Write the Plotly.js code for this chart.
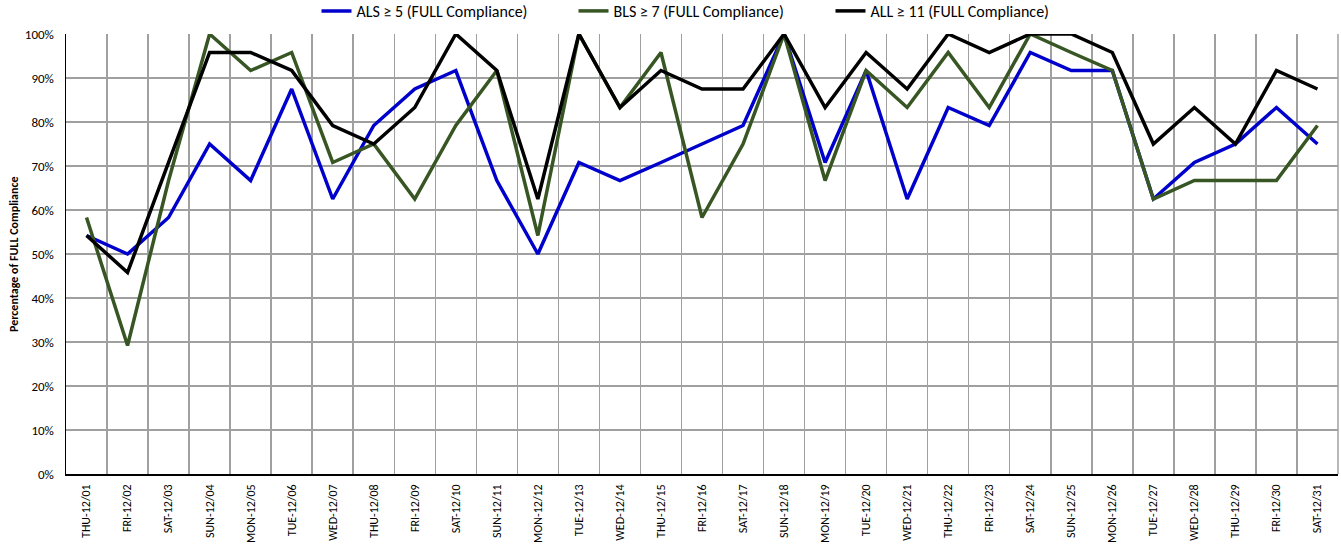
<!DOCTYPE html>
<html>
<head>
<meta charset="utf-8">
<script src="https://cdn.plot.ly/plotly-3.0.1.min.js"></script>
<style>html,body{margin:0;padding:0;background:#fff;}#chart{width:1341px;height:550px;}</style>
</head>
<body>
<div id="chart"></div>
<script>
const categories = ["THU-12/01","FRI-12/02","SAT-12/03","SUN-12/04","MON-12/05","TUE-12/06","WED-12/07","THU-12/08","FRI-12/09","SAT-12/10","SUN-12/11","MON-12/12","TUE-12/13","WED-12/14","THU-12/15","FRI-12/16","SAT-12/17","SUN-12/18","MON-12/19","TUE-12/20","WED-12/21","THU-12/22","FRI-12/23","SAT-12/24","SUN-12/25","MON-12/26","TUE-12/27","WED-12/28","THU-12/29","FRI-12/30","SAT-12/31"];
const alsValues = [54.2,50.0,58.3,75.0,66.7,87.5,62.5,79.2,87.5,91.7,66.7,50.0,70.8,66.7,70.8,75.0,79.2,100,70.8,91.7,62.5,83.3,79.2,95.8,91.7,91.7,62.5,70.8,75.0,83.3,75.0];
const blsValues = [58.3,29.2,66.7,100,91.7,95.8,70.8,75.0,62.5,79.2,91.7,54.2,100,83.3,95.8,58.3,75.0,100,66.7,91.7,83.3,95.8,83.3,100,95.8,91.7,62.5,66.7,66.7,66.7,79.2];
const allValues = [54.2,45.8,70.8,95.8,95.8,91.7,79.2,75.0,83.3,100,91.7,62.5,100,83.3,91.7,87.5,87.5,100,83.3,95.8,87.5,100,95.8,100,100,95.8,75.0,83.3,75.0,91.7,87.5];
const seriesNames = ["ALS \u2265 5 (FULL Compliance)","BLS \u2265 7 (FULL Compliance)","ALL \u2265 11 (FULL Compliance)"];
const yTicks = [0,10,20,30,40,50,60,70,80,90,100];
const yTitle = "Percentage of FULL Compliance";

const FONT = "Carlito, Lato, 'Open Sans', sans-serif";
function tr(y, name, color){
  return {x: categories, y: y, name: name, type: 'scatter', mode: 'lines',
    line: {color: color, width: 3.5}, cliponaxis: false};
}
const data = [
  tr(alsValues, seriesNames[0], '#0000CC'),
  tr(blsValues, seriesNames[1], '#375623'),
  tr(allValues, seriesNames[2], '#000000')
];
const layout = {
  width: 1341, height: 550,
  margin: {l: 66, r: 3, t: 34, b: 76, autoexpand: false},
  paper_bgcolor: '#fff', plot_bgcolor: '#fff',
  font: {family: FONT, color: '#000', size: 12},
  showlegend: true,
  legend: {orientation: 'h', x: 0.5, xanchor: 'center', yref: 'container', y: 0.98, yanchor: 'middle',
    font: {family: FONT, size: 16, color: '#000'}, itemwidth: 30, traceorder: 'normal',
    entrywidth: 212, entrywidthmode: 'pixels'},
  xaxis: {type: 'category', range: [-0.5, 30.5], tickson: 'boundaries',
    showgrid: true, gridcolor: '#a0a0a0', gridwidth: 1.5,
    showline: true, linecolor: '#000', linewidth: 1.5, mirror: false,
    ticks: '', tickangle: -90, ticklabelstandoff: 4,
    tickfont: {family: FONT, size: 12, color: '#000'},
    fixedrange: true},
  yaxis: {range: [0, 100], tickvals: yTicks, ticktext: yTicks.map(v => v + '%'),
    showgrid: true, gridcolor: '#a0a0a0', gridwidth: 1.5, zeroline: false,
    showline: true, linecolor: '#000', linewidth: 1.5, ticks: '', ticklabelstandoff: 8,
    tickfont: {family: FONT, size: 13, color: '#000'},
    fixedrange: true},
  annotations: [
    {text: '<b>' + yTitle + '</b>', xref: 'paper', yref: 'paper', x: 0, y: 0.5, xshift: -52,
     xanchor: 'center', yanchor: 'middle', textangle: -90, showarrow: false,
     font: {family: FONT, size: 12, color: '#000'}}
  ],
  shapes: [
    {type: 'line', xref: 'paper', yref: 'paper', x0: 1, x1: 1, y0: 0, y1: 1, line: {color: '#a0a0a0', width: 1.5}}
  ]
};
Plotly.newPlot('chart', data, layout, {displayModeBar: false, staticPlot: true});
</script>
</body>
</html>
